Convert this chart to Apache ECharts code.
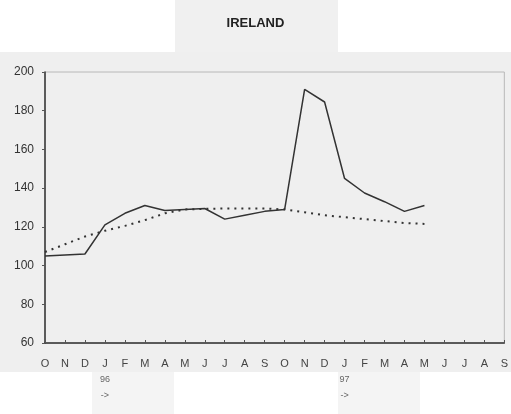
<!DOCTYPE html>
<html>
<head>
<meta charset="utf-8">
<script src="https://cdn.jsdelivr.net/npm/echarts@6/dist/echarts.min.js"></script>
<style>
  html, body { margin: 0; padding: 0; background: #fff; }
  #chart { width: 511px; height: 414px; }
</style>
</head>
<body>
<div id="chart"></div>
<script>
const months = ['O', 'N', 'D', 'J', 'F', 'M', 'A', 'M', 'J', 'J', 'A', 'S',
  'O', 'N', 'D', 'J', 'F', 'M', 'A', 'M', 'J', 'J', 'A', 'S'];
const yearMarks = { 3: '96', 15: '97' };
const actual = [105, 105.5, 106, 121, 127, 131, 128.5, 129, 129.5, 124, 126, 128,
  129, 191, 184.5, 145, 137.5, 133, 128, 131];
const trend = [107, 111, 115, 118, 120.5, 123.5, 127, 129, 129.3, 129.5, 129.5, 129.5,
  129, 127.5, 126, 125, 124, 123, 122, 121.5];

const chart = echarts.init(document.getElementById('chart'));

chart.setOption({
  backgroundColor: '#fff',
  animation: false,
  title: {
    text: 'IRELAND',
    left: 'center',
    top: 12,
    textStyle: { fontFamily: 'Liberation Sans', fontSize: 13, fontWeight: 'bold', color: '#222' }
  },
  graphic: [
    { type: 'rect', z: -10, shape: { x: 175, y: 0, width: 163, height: 52 }, style: { fill: '#f0f0f0' } },
    { type: 'rect', z: -10, shape: { x: 0, y: 52, width: 511, height: 320 }, style: { fill: '#efefef' } },
    { type: 'rect', z: -10, shape: { x: 92, y: 372, width: 82, height: 42 }, style: { fill: '#f4f4f4' } },
    { type: 'rect', z: -10, shape: { x: 338, y: 372, width: 82, height: 42 }, style: { fill: '#f4f4f4' } }
  ],
  grid: {
    left: 45, right: 6, top: 72, bottom: 71,
    show: true,
    backgroundColor: '#efefef',
    borderColor: '#b8b8b8',
    borderWidth: 1
  },
  xAxis: {
    type: 'category',
    data: months,
    boundaryGap: false,
    axisLine: { lineStyle: { color: '#333', width: 1.5 } },
    axisTick: { show: true, inside: true, length: 3, lineStyle: { color: '#555' } },
    axisLabel: {
      interval: 0,
      margin: 13,
      color: '#444',
      fontFamily: 'Liberation Sans',
      fontSize: 11,
      lineHeight: 16,
      formatter: (v, i) => yearMarks[i] ? v + '\n{s|' + yearMarks[i] + '}\n{s|->}' : v,
      rich: { s: { fontSize: 9, color: '#666', lineHeight: 16 } }
    },
    splitLine: { show: false }
  },
  yAxis: {
    type: 'value',
    min: 60,
    max: 200,
    interval: 20,
    axisLine: { show: true, lineStyle: { color: '#333', width: 1.5 } },
    axisTick: { show: true, length: 3, lineStyle: { color: '#555' } },
    axisLabel: { color: '#333', fontFamily: 'Liberation Sans', fontSize: 12, margin: 11 },
    splitLine: { show: false }
  },
  series: [
    {
      type: 'line',
      data: actual,
      symbol: 'none',
      lineStyle: { color: '#333', width: 1.5 }
    },
    {
      type: 'line',
      data: trend,
      symbol: 'none',
      lineStyle: { color: '#333', width: 2, type: [2, 5] }
    }
  ]
});
</script>
</body>
</html>
